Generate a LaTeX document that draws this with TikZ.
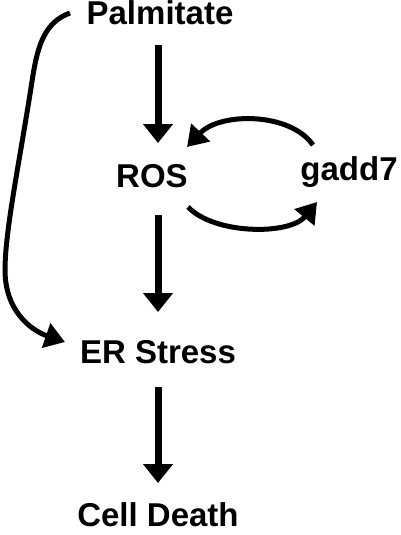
\documentclass[tikz,border=0pt]{standalone}
\usepackage{fontspec}
\setmainfont{Liberation Sans}
\usetikzlibrary{arrows.meta,calc}
\begin{document}
\begin{tikzpicture}[x=1pt,y=-1pt,
  lbl/.style={inner sep=0pt,anchor=base,font=\fontsize{33}{39}\selectfont\bfseries},
  straight/.style={line width=7pt,-{Triangle[width=29pt,length=19pt]}},
  curved/.style={line width=5pt,-{Triangle[width=25pt,length=20pt]}}]
\useasboundingbox (0,0) rectangle (400,535);
\node[lbl] (pal) at (160,25) {Palmitate};
\node[lbl] (ros) at (152,187) {ROS};
\node[lbl] (gadd) at (349,180) {gadd7};
\node[lbl] (er) at (158,363) {ER Stress};
\node[lbl] (cd) at (158,526) {Cell Death};
% straight arrows
\draw[straight] ($(pal.base)+(-2,20)$) -- ($(ros.base)+(6,-44)$);
\draw[straight] ($(ros.base)+(6,28)$) -- ($(er.base)+(0,-51)$);
\draw[straight] ($(er.base)+(0,24)$) -- ($(cd.base)+(0,-43)$);
% loop between ROS and gadd7
\draw[curved] ($(gadd.base)+(-36,-35)$) .. controls (290,112) and (220,112) .. ($(ros.base)+(35,-40)$);
\draw[curved] ($(ros.base)+(36,20)$) .. controls (215,235) and (290,235) .. ($(gadd.base)+(-32,22)$);
% Palmitate to ER Stress
\draw[curved] ($(pal.base)+(-90,-12)$) .. controls (45,22) and (38,45) .. (33,75)
  .. controls (20,160) and (5,230) .. (5,270)
  .. controls (5,310) and (30,330) .. ($(er.base)+(-93,-21)$);
\end{tikzpicture}
\end{document}
